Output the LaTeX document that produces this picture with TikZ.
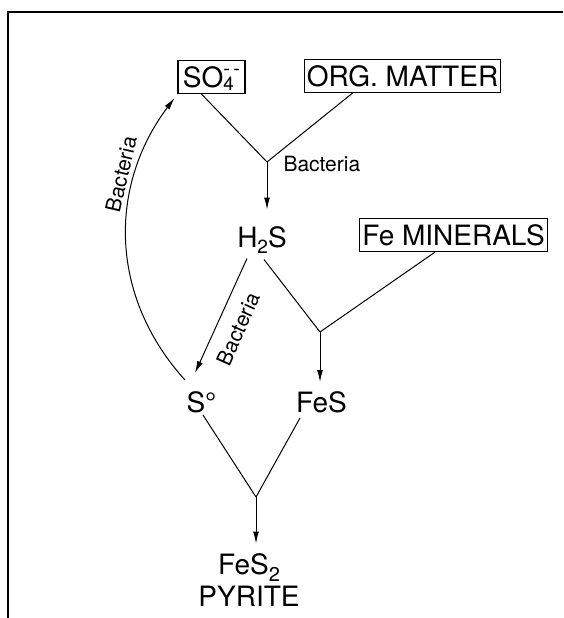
\documentclass[tikz,border=0pt]{standalone}
\usepackage{fontspec}
\setmainfont{TeX Gyre Heros}
\usetikzlibrary{arrows.meta,calc}

\tikzset{every picture/.style={line width=1pt}}
\tikzset{
  chem/.style={inner sep=0pt, text height=20pt, text depth=0pt, font=\fontsize{28}{30}\selectfont},
  chembox/.style={chem, draw, line width=1.2pt, inner xsep=2.5pt, inner ysep=6.5pt},
  bact/.style={inner sep=0pt, font=\fontsize{21}{23}\selectfont},
  arr/.style={-{Latex[length=12pt,width=6pt]}}
}
\newcommand{\lowsub}[1]{\raisebox{-6pt}{\fontsize{19}{19}\selectfont #1}}

\begin{document}
\begin{tikzpicture}[x=1pt,y=-1pt]
    \useasboundingbox (0,0) rectangle (563,618);
    \draw[line width=1.4pt] (563,12) -- (8,12) -- (8,618);
    \node[chembox, minimum width=67pt] (so4) at (211.5,77) {SO\rlap{\raisebox{-3pt}{\fontsize{19}{19}\selectfont 4}}\raisebox{12pt}{\fontsize{20}{20}\selectfont -\,-}};
    \node[chembox] (org) at (402.5,76) {ORG. MATTER};
    \node[chem] (h2s) at (262,237) {H\lowsub{2}S};
    \node[chembox] (femin) at (453.5,235) {Fe MINERALS};
    \node[chem] (s0) at (201.5,402.5) {S°};
    \node[chem] (fes) at (321.5,402.5) {FeS};
    \node[chem] (fes2) at (249,564) {FeS\raisebox{-7pt}{\fontsize{20}{20}\selectfont 2}};
    \node[chem] (pyrite) at (249,596) {PYRITE};
    \coordinate (j1) at (267,162);
    \coordinate (j2) at (320,332);
    \coordinate (j3) at (256,497);
    \draw ($(so4.south)+(-10,0)$) -- (j1);
    \draw ($(org.south)+(-50,0)$) -- (j1);
    \draw[arr, shorten >=17pt] (j1) -- (j1 |- h2s.north);
    \node[bact, anchor=base west] (bac1) at (283,171) {Bacteria};
    \draw ($(h2s.south)+(2,12)$) -- (j2);
    \draw ($(femin.south)+(-18.5,0)$) -- (j2);
    \draw[arr, shorten >=10pt] (j2) -- (j2 |- fes.north);
    \draw[arr] ($(h2s.south)+(-15,11)$) -- ($(s0.north)+(-6.5,-19)$);
    \node[bact, rotate=66] (bac2) at (238,329) {Bacteria};
    \draw ($(s0.south)+(1.5,2)$) -- (j3);
    \draw ($(fes.south)+(-21.5,5)$) -- (j3);
    \draw[arr, shorten >=10pt] (j3) -- (j3 |- fes2.north);
    \draw[arr] ($(s0.north)+(-16.5,-12)$) .. controls +(-76,-84) and +(-66,88) .. ($(so4.south west)+(-3,4)$);
    \node[bact, rotate=77] (bac3) at (121,174) {Bacteria};
\end{tikzpicture}
\end{document}
